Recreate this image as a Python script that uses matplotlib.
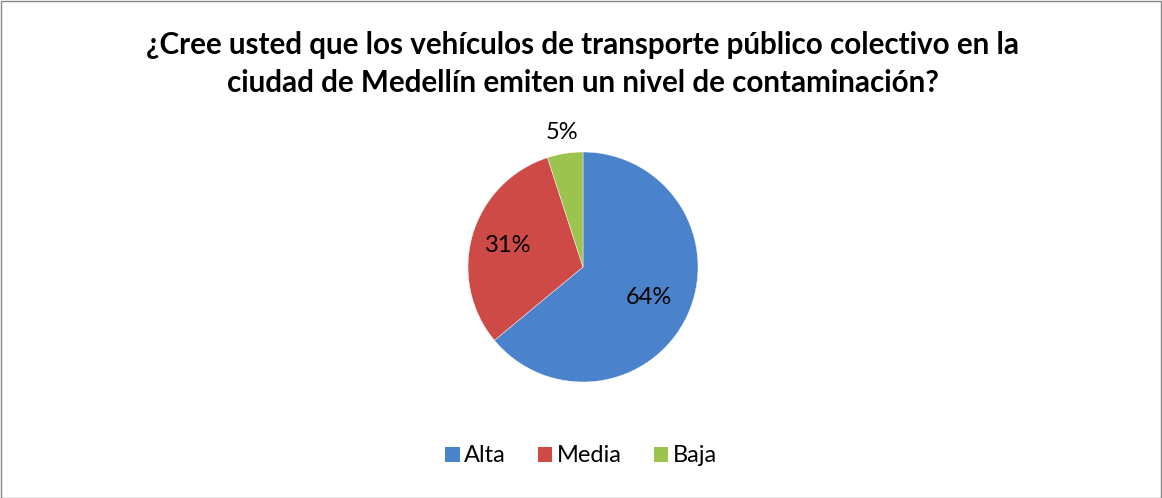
import matplotlib
matplotlib.use("Agg")
import matplotlib.pyplot as plt
from matplotlib.patches import Patch, Rectangle
import numpy as np

plt.rcParams['font.family'] = ['Lato', 'DejaVu Sans']

title = "¿Cree usted que los vehículos de transporte público colectivo en la\nciudad de Medellín emiten un nivel de contaminación?"
categories = ["Alta", "Media", "Baja"]
values = [64, 31, 5]
labels = ["64%", "31%", "5%"]
colors = ["#4A82CC", "#CD4A46", "#9CC34E"]
label_dist = [0.63, 0.68, 1.18]

W, H = 1162, 498
fig = plt.figure(figsize=(W / 100, H / 100), dpi=100)
fig.patches.append(Rectangle((0.5 / W, 0.5 / H), 1 - 2 / W, 1 - 2 / H, transform=fig.transFigure,
                             fill=False, edgecolor="#868686", linewidth=1.0))

cx, cy, r = 583, 267, 115
ax = fig.add_axes([(cx - r) / W, (H - cy - r) / H, 2 * r / W, 2 * r / H])
wedges, _ = ax.pie(values, colors=colors, startangle=90, counterclock=False,
                   wedgeprops=dict(edgecolor="white", linewidth=0.3))
ax.set_xlim(-1, 1)
ax.set_ylim(-1, 1)
ax.set_aspect("equal")
for w, lab, d in zip(wedges, labels, label_dist):
    ang = np.deg2rad((w.theta1 + w.theta2) / 2)
    ax.text(d * np.cos(ang), d * np.sin(ang), lab, ha="center", va="center",
            fontsize=17, color="black", clip_on=False)

fig.text(0.5 + 2 / W, 1 - 64 / H, title, ha="center", va="center", fontsize=21.3, fontweight="bold",
         linespacing=1.45)

handles = [Patch(facecolor=c, edgecolor="none") for c in colors]
fig.legend(handles, categories, loc="center", bbox_to_anchor=(0.5, 1 - 456 / H), ncol=3,
           frameon=False, fontsize=17, handlelength=0.6, handleheight=0.6,
           handletextpad=0.2, columnspacing=1.35)

fig.savefig("out.png", dpi=100)
